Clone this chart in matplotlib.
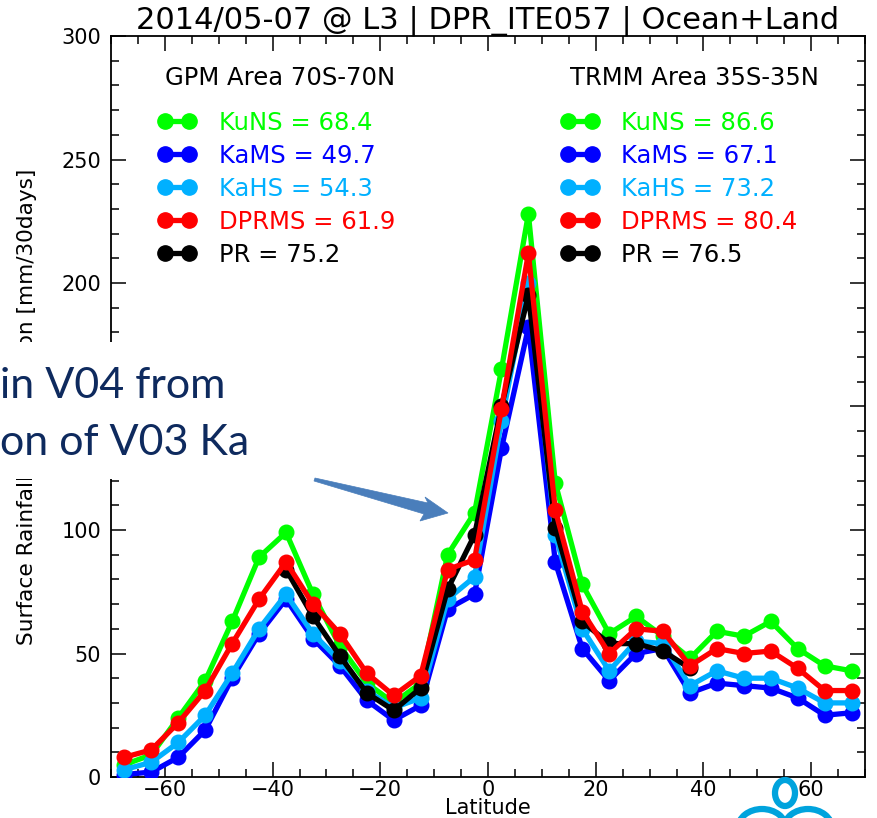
import matplotlib
matplotlib.use("Agg")
import matplotlib.pyplot as plt
from matplotlib.lines import Line2D
from matplotlib.patches import Rectangle, Polygon, Ellipse, Arc
from matplotlib.ticker import MultipleLocator

# Зональные средние осадков, мм/30 дней
latitudes = [-67.5, -62.5, -57.5, -52.5, -47.5, -42.5, -37.5, -32.5, -27.5, -22.5,
             -17.5, -12.5, -7.5, -2.5, 2.5, 7.5, 12.5, 17.5, 22.5, 27.5,
             32.5, 37.5, 42.5, 47.5, 52.5, 57.5, 62.5, 67.5]

ku_ns = [5, 9, 24, 39, 63, 89, 99, 74, 53, 38,
         30, 38, 90, 107, 165, 228, 119, 78, 58, 65,
         57, 48, 59, 57, 63, 52, 45, 43]
ka_ms = [1, 2, 8, 19, 40, 58, 72, 56, 45, 31,
         23, 29, 68, 74, 133, 182, 87, 52, 39, 50,
         52, 34, 38, 37, 36, 32, 25, 26]
ka_hs = [3, 6, 14, 25, 42, 60, 74, 58, 47, 35,
         28, 32, 72, 81, 144, 200, 98, 60, 43, 55,
         54, 37, 43, 40, 40, 36, 30, 30]
dpr_ms = [8, 11, 22, 35, 54, 72, 87, 70, 58, 42,
          33, 41, 84, 88, 149, 212, 108, 67, 50, 60,
          59, 45, 52, 50, 51, 44, 35, 35]

# PR (TRMM) только в тропиках
pr_latitudes = [-37.5, -32.5, -27.5, -22.5, -17.5, -12.5, -7.5, -2.5,
                2.5, 7.5, 12.5, 17.5, 22.5, 27.5, 32.5, 37.5]
pr = [84, 65, 49, 34, 27, 36, 76, 98,
      150, 195, 101, 63, 54, 54, 51, 44]

names = ["KuNS", "KaMS", "KaHS", "DPRMS", "PR"]
gpm_means = ["68.4", "49.7", "54.3", "61.9", "75.2"]
trmm_means = ["86.6", "67.1", "73.2", "80.4", "76.5"]
colors = ["#00ff00", "#0000ff", "#00b0ff", "#ff0000", "#000000"]

W, H = 878, 818


def fx(px):
    return px / W


def fy(py):
    return 1 - py / H


fig = plt.figure(figsize=(W / 100, H / 100), dpi=100)
ax = fig.add_axes([fx(111), fy(777), (865 - 111) / W, (777 - 36) / H])

style = dict(lw=3.8, marker="o", ms=10.5, solid_joinstyle="round")
ax.plot(latitudes, ku_ns, color=colors[0], zorder=2, **style)
ax.plot(latitudes, ka_ms, color=colors[1], zorder=3, **style)
ax.plot(latitudes, ka_hs, color=colors[2], zorder=4, **style)
ax.plot(pr_latitudes, pr, color=colors[4], zorder=5, **style)
ax.plot(latitudes, dpr_ms, color=colors[3], zorder=6, **style)

ax.set_xlim(-70, 70)
ax.set_ylim(0, 300)
ax.xaxis.set_major_locator(MultipleLocator(20))
ax.xaxis.set_minor_locator(MultipleLocator(5))
ax.yaxis.set_major_locator(MultipleLocator(50))
ax.yaxis.set_minor_locator(MultipleLocator(10))
ax.tick_params(which="both", direction="in", top=True, right=True, width=1.1)
ax.tick_params(which="major", length=11, labelsize=15)
ax.tick_params(which="minor", length=6)
ax.tick_params(axis="x", pad=2)
ax.tick_params(axis="y", pad=7)
for sp in ax.spines.values():
    sp.set_linewidth(1.3)

ax.set_xlabel("Latitude", fontsize=15, labelpad=-1)
ax.set_ylabel("Surface Rainfall Accumulation [mm/30days]", fontsize=15.6)
ax.yaxis.set_label_coords(-0.098, 0.5)
ax.set_title("2014/05-07 @ L3 | DPR_ITE057 | Ocean+Land", fontsize=22, pad=3)

# Легенды: GPM слева, TRMM справа
handles = [Line2D([], [], color=c, lw=3.8, marker="o", ms=11) for c in colors]
gpm_labels = [n + " = " + v for n, v in zip(names, gpm_means)]
trmm_labels = [n + " = " + v for n, v in zip(names, trmm_means)]
leg_opts = dict(loc="upper left", frameon=False, borderpad=0, borderaxespad=0,
                handlelength=1.6, handletextpad=0.9, labelspacing=0.37,
                numpoints=2, fontsize=17.5, labelcolor=colors)
leg1 = ax.legend(handles, gpm_labels, bbox_to_anchor=(0.062, 0.899), **leg_opts)
ax.add_artist(leg1)
ax.legend(handles, trmm_labels, bbox_to_anchor=(0.596, 0.899), **leg_opts)
ax.text(0.0716, 0.943, "GPM Area 70S-70N", transform=ax.transAxes,
        fontsize=17.5, va="center", ha="left")
ax.text(0.609, 0.943, "TRMM Area 35S-35N", transform=ax.transAxes,
        fontsize=17.5, va="center", ha="left")

# Наложение со слайда: белая плашка, текст, стрелка, логотип
fig.add_artist(Rectangle((0, fy(479)), fx(300), (479 - 342) / H,
                         transform=fig.transFigure, facecolor="white",
                         edgecolor="none", zorder=10))
navy = "#0e2a5e"
fig.text(fx(0), fy(398), "in V04 from", family=["Lato", "DejaVu Sans"],
         fontsize=31, color=navy, va="baseline", ha="left", zorder=11)
fig.text(fx(0), fy(455), "on of V03 Ka", family=["Lato", "DejaVu Sans"],
         fontsize=31, color=navy, va="baseline", ha="left", zorder=11)

arrow_pts = [(315, 478), (428, 503), (425, 497), (448, 513),
             (420, 521), (424, 514), (314, 481)]
fig.add_artist(Polygon([(fx(x), fy(y)) for x, y in arrow_pts], closed=True,
                       transform=fig.transFigure, facecolor="#4a7ebb",
                       edgecolor="#4a7ebb", lw=0.5, zorder=11))

cyan = "#00a3dd"
fig.add_artist(Ellipse((fx(785), fy(793)), 20 / W, 26 / H, transform=fig.transFigure,
                       fill=False, edgecolor=cyan, lw=4.5, zorder=11))
fig.add_artist(Arc((fx(762), fy(828)), 48 / W, 38 / H, theta1=0, theta2=180,
                   transform=fig.transFigure, edgecolor=cyan, lw=4.5, zorder=11))
fig.add_artist(Arc((fx(808), fy(828)), 48 / W, 38 / H, theta1=0, theta2=180,
                   transform=fig.transFigure, edgecolor=cyan, lw=4.5, zorder=11))

fig.savefig("out.png", dpi=100)
